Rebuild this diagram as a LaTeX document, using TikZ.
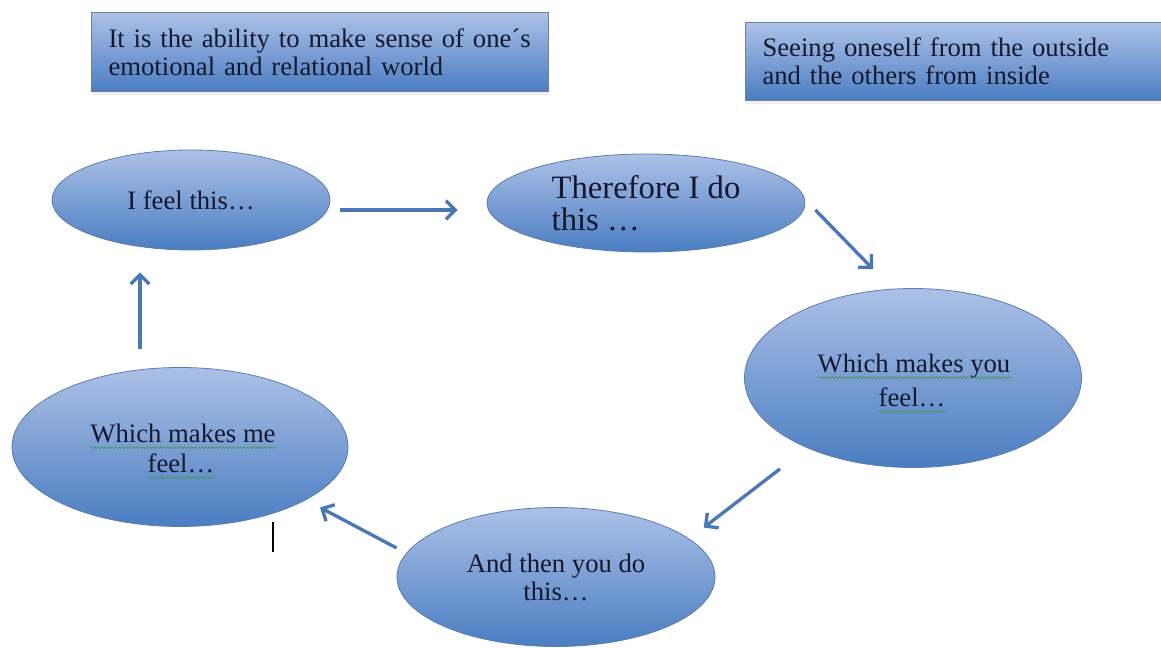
\documentclass[tikz,border=0pt]{standalone}
\usepackage{fontspec}
\setmainfont{Liberation Serif}
\usetikzlibrary{arrows.meta,calc,shadows,shapes.geometric,decorations.pathmorphing}

\definecolor{shapetop}{RGB}{172,193,231}
\definecolor{shapebot}{RGB}{74,125,193}
\definecolor{shapeline}{RGB}{90,125,176}
\definecolor{boxline}{RGB}{110,130,160}
\definecolor{arrowblue}{RGB}{72,120,184}
\definecolor{ink}{RGB}{20,24,46}
\definecolor{spellgreen}{RGB}{70,150,70}

\tikzset{
  bubble/.style={ellipse, draw=shapeline, line width=0.6pt,
    top color=shapetop, bottom color=shapebot, inner sep=0pt,
    text=ink, font=\fontsize{20}{26}\selectfont},
  notebox/.style={rectangle, draw=boxline, line width=0.8pt,
    top color=shapetop, bottom color=shapebot, anchor=north west,
    inner xsep=12.75pt, inner ysep=0pt, align=left, text=ink,
    font=\fontsize{20}{21}\selectfont,
    drop shadow={opacity=0.12, shadow xshift=0pt, shadow yshift=-2.5pt}},
  linetext/.style={inner sep=0pt, anchor=base, text=ink,
    font=\fontsize{20}{26}\selectfont},
  spell/.style={draw=spellgreen, line width=0.45pt, decorate,
    decoration={snake, amplitude=0.7pt, segment length=2.6pt}},
  flow/.style={draw=arrowblue, line width=2.5pt,
    -{Straight Barb[length=7pt, width=14pt, line width=2.5pt]}},
}

\begin{document}
\begin{tikzpicture}[x=0.75pt, y=-0.75pt]
  \useasboundingbox (0,0) rectangle (1161,648);
  \fill[white] (0,0) rectangle (1161,648);

  % definition boxes
  \node[notebox, minimum width=342.75pt, minimum height=59.25pt,
        text width=317.25pt] (def) at (91,12)
    {It is the ability to make sense of one´s\\emotional and relational world};
  \node[notebox, minimum width=312pt, minimum height=58.5pt,
        text width=286.5pt] (view) at (745,22)
    {Seeing oneself from the outside\\and the others from inside};

  % the cycle
  \node[bubble, minimum width=208.5pt, minimum height=75pt] (e1) at (191,200)
    {I feel this…};
  \node[bubble, minimum width=238.5pt, minimum height=73.5pt, align=left,
        font=\fontsize{24.5}{24}\selectfont] (e2) at (646,203)
    {Therefore I do\\this …};
  \node[bubble, minimum width=252.75pt, minimum height=134.25pt] (e3) at (913,378) {};
  \node[bubble, minimum width=252pt, minimum height=119.25pt] (e4) at (180,447) {};
  \node[bubble, minimum width=238.5pt, minimum height=104.25pt, align=center,
        font=\fontsize{20}{21}\selectfont] (e5) at (556,577)
    {And then you do\\this…};

  % two-line labels with spelling marks
  \node[linetext] (e3a) at (914,373) {Which makes you};
  \node[linetext] (e3b) at (912,407) {feel…};
  \node[linetext] (e4a) at (183,443) {Which makes me};
  \node[linetext] (e4b) at (181,473) {feel…};
  \foreach \t in {e3a,e3b,e4a,e4b}
    \draw[spell] ([yshift=-3.5pt]\t.base west) -- ([yshift=-3.5pt]\t.base east);

  % connectors
  \draw[flow] ($(e1.east)+(10,10)$) -- ($(e2.west)+(-29,7)$);
  \draw[flow] ($(e2.east)+(10,7)$) -- ($(e3.north)+(-40,-19)$);
  \draw[flow] ($(e3.south)+(-133,1)$) -- ($(e5.north east)+(35,0)$);
  \draw[flow] ($(e5.west)+(0,-29)$) -- ($(e4.south east)+(21,4)$);
  \draw[flow] ($(e4.north)+(-40,-18)$) -- ($(e1.south)+(-51,22)$);

  % text cursor
  \coordinate (caret) at (273,522);
  \draw[black, line width=2pt] (caret) -- ++(0,30);
\end{tikzpicture}
\end{document}
